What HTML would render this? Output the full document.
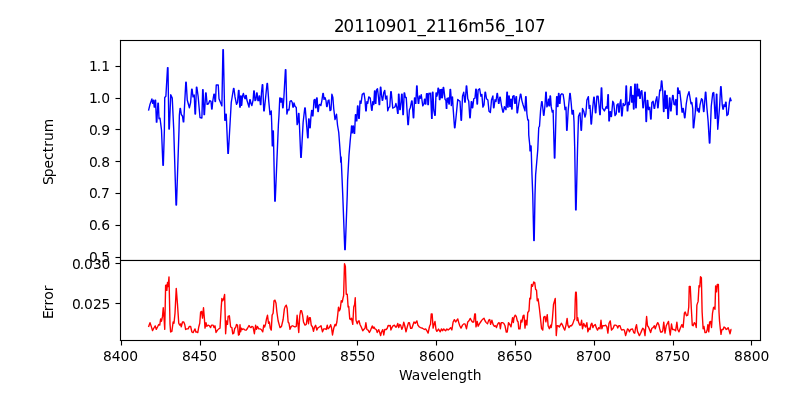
<!DOCTYPE html>
<html lang="en">
<head>
<meta charset="utf-8">
<title>20110901_2116m56_107</title>
<style>
html,body{margin:0;padding:0;background:#fff;}
body{width:800px;height:400px;overflow:hidden;}
svg{display:block;}
text{font-family:"DejaVu Sans","Liberation Sans",sans-serif;fill:#000;font-kerning:none;}
.t{font-size:13.889px;}
.h{font-size:16.667px;}
.s{stroke:#000;stroke-width:1.11;fill:none;}
</style>
</head>
<body>
<svg width="800" height="400" viewBox="0 0 800 400">
<rect x="0" y="0" width="800" height="400" fill="#fff"/>
<svg x="120" y="40" width="641" height="221" viewBox="120 40 641 221">
<polyline fill="none" stroke="#0000ff" stroke-width="1.39" stroke-linejoin="round" stroke-linecap="butt" points="148.50,110.62 150.00,104.38 151.88,98.85 152.62,103.40 153.50,100.10 154.28,107.15 154.72,107.15 155.16,100.10 155.59,100.10 156.41,122.15 156.84,122.15 157.91,103.10 158.34,103.10 159.00,118.75 160.00,118.12 161.50,130.00 162.91,165.28 163.34,165.28 164.38,130.00 164.75,97.50 165.88,96.25 167.53,67.60 167.97,67.60 168.91,129.03 169.34,129.03 170.75,94.72 172.25,98.12 173.75,130.00 176.03,205.03 176.47,205.03 179.00,130.00 179.38,115.00 180.03,108.47 180.47,108.47 181.25,114.38 182.50,116.25 183.28,121.90 183.72,121.90 185.78,82.22 186.22,82.22 187.25,100.00 189.38,107.78 190.62,102.50 191.66,89.10 192.09,89.10 193.00,96.88 194.25,95.00 195.03,114.03 195.47,114.03 196.41,87.22 196.84,87.22 198.12,96.25 200.00,117.50 201.88,118.12 202.66,89.72 203.09,89.72 204.03,114.65 204.47,114.65 205.66,92.85 206.09,92.85 207.12,104.38 208.50,103.75 209.75,100.62 211.00,101.25 211.66,109.03 212.09,109.03 212.75,101.25 213.91,94.10 214.34,94.10 215.03,101.53 215.47,101.53 216.25,85.00 218.25,85.00 219.00,98.75 221.88,105.90 222.91,49.73 223.34,49.73 224.78,120.28 225.22,120.28 225.78,114.10 226.22,114.10 227.91,153.40 228.34,153.40 231.25,102.50 233.53,88.47 233.97,88.47 235.00,96.88 236.50,104.38 237.50,102.50 238.53,90.35 238.97,90.35 239.78,107.15 240.22,107.15 240.66,95.97 241.09,95.97 241.28,105.28 241.72,105.28 242.50,96.25 243.38,93.47 244.38,97.50 245.25,98.75 245.78,95.35 246.22,95.35 246.88,100.00 249.00,107.15 249.78,99.72 250.22,99.72 251.00,103.75 251.88,105.62 253.12,100.00 253.78,90.97 254.22,90.97 255.00,100.62 255.88,100.00 256.65,92.85 257.10,92.85 257.88,100.62 258.75,100.62 259.15,95.97 259.60,95.97 260.40,104.65 260.85,104.65 261.50,92.50 262.28,84.72 262.72,84.72 263.78,110.90 264.22,110.90 265.62,97.50 267.03,83.47 267.47,83.47 268.75,101.25 270.00,114.65 271.25,110.97 271.75,125.00 272.28,145.90 272.72,145.90 272.90,130.97 273.35,130.97 274.78,201.15 275.22,201.15 278.38,125.00 279.00,115.00 279.78,97.85 280.22,97.85 280.78,102.15 281.22,102.15 281.65,98.47 282.10,98.47 282.65,107.78 283.10,107.78 283.75,100.00 285.40,69.72 285.85,69.72 286.88,114.03 288.12,109.38 289.00,110.00 290.00,101.25 291.25,100.62 292.25,102.50 292.90,107.15 293.35,107.15 294.00,102.85 295.00,106.25 296.25,107.50 297.12,124.65 297.88,122.50 298.53,113.47 298.97,113.47 300.78,157.40 301.22,157.40 303.12,122.50 304.78,107.85 305.22,107.85 307.65,137.78 308.10,137.78 308.65,118.85 309.10,118.85 309.78,127.78 310.22,127.78 310.88,117.50 311.65,110.35 312.10,110.35 312.53,115.90 312.97,115.90 314.00,100.00 315.00,99.38 315.65,107.78 316.10,107.78 316.65,97.85 317.10,97.85 317.90,111.53 318.35,111.53 319.00,105.00 320.00,104.38 320.88,105.62 321.88,100.62 322.90,93.47 323.35,93.47 324.00,99.38 325.00,97.50 326.00,100.62 326.65,106.53 327.10,106.53 328.12,100.62 329.00,100.00 330.00,110.62 331.00,110.00 331.88,94.10 332.88,97.50 333.75,108.75 335.00,119.65 336.50,114.10 337.50,125.00 338.75,132.50 340.50,156.25 340.75,162.15 341.12,156.85 342.12,180.00 342.75,195.00 344.78,249.65 345.22,249.65 347.25,195.00 347.62,180.00 349.00,155.00 350.25,140.00 351.25,130.00 351.50,125.97 352.03,132.78 352.47,132.78 352.90,125.97 353.35,125.97 354.15,133.40 354.60,133.40 355.40,114.72 355.85,114.72 356.40,120.90 356.85,120.90 357.53,105.97 357.97,105.97 358.78,118.40 359.22,118.40 360.00,100.97 361.00,103.40 362.25,94.38 364.00,93.12 365.00,100.00 365.78,110.90 366.22,110.90 366.88,101.60 367.75,103.40 368.75,96.88 370.25,98.12 371.65,110.28 372.10,110.28 372.75,101.60 373.75,104.65 374.53,90.97 374.97,90.97 375.40,103.40 375.85,103.40 376.50,90.00 377.50,88.75 378.50,97.50 379.15,104.65 379.60,104.65 380.40,87.22 380.85,87.22 381.50,95.00 382.28,100.28 382.72,100.28 383.75,92.50 384.75,90.35 385.62,99.03 386.88,95.97 387.75,110.90 388.75,107.50 389.75,106.88 390.78,91.60 391.22,91.60 391.88,98.75 392.75,108.12 394.00,107.50 395.00,106.88 395.88,103.47 396.88,107.50 397.65,113.40 398.10,113.40 398.53,94.10 398.97,94.10 399.78,109.65 400.22,109.65 401.00,102.50 401.65,94.10 402.10,94.10 402.90,114.65 403.35,114.65 404.15,92.85 404.60,92.85 405.38,97.50 406.25,97.50 407.90,124.65 408.35,124.65 409.38,110.00 410.38,107.50 411.65,100.97 412.10,100.97 413.28,117.78 413.72,117.78 414.53,97.85 414.97,97.85 415.40,103.40 415.85,103.40 416.65,85.97 417.10,85.97 417.50,95.00 418.28,103.40 418.72,103.40 419.38,95.97 420.25,98.40 421.25,94.72 422.75,105.90 424.00,103.75 424.53,99.10 424.97,99.10 425.40,104.03 425.85,104.03 426.50,93.75 427.50,93.75 427.90,104.65 428.35,104.65 429.00,93.12 430.00,93.75 430.62,93.12 431.65,118.40 432.10,118.40 432.53,92.22 432.97,92.22 433.75,110.00 434.78,115.28 435.22,115.28 436.03,92.85 436.47,92.85 436.88,96.21 437.50,94.38 438.03,88.16 438.47,88.16 439.06,92.50 439.47,99.65 439.91,99.65 440.09,89.72 440.53,89.72 440.72,97.78 441.16,97.78 441.53,89.41 441.97,89.41 442.38,97.78 442.81,94.38 443.22,87.54 443.66,87.54 444.06,90.62 445.00,99.06 445.94,100.62 446.34,108.40 446.78,108.40 446.97,98.47 447.41,98.47 447.59,102.15 448.03,102.15 448.22,97.85 448.66,97.85 448.84,104.03 449.28,104.03 449.69,97.19 450.09,89.41 450.53,89.41 450.94,95.00 451.31,105.59 451.88,97.50 452.50,96.88 453.12,108.12 454.53,127.78 454.97,127.78 456.25,115.00 457.75,99.38 459.00,100.62 460.00,101.25 461.03,120.28 461.47,120.28 462.50,96.25 463.75,92.22 464.78,102.15 465.22,102.15 466.28,85.97 466.72,85.97 467.75,98.75 468.75,101.25 469.78,117.78 470.22,117.78 471.28,101.60 471.72,101.60 472.28,107.78 472.72,107.78 473.75,98.75 475.00,98.12 475.78,89.10 476.22,89.10 477.03,104.03 477.47,104.03 478.12,90.00 479.62,88.75 480.88,96.25 481.88,94.38 482.88,107.15 484.00,105.00 485.03,92.22 485.47,92.22 486.50,98.75 487.88,100.00 489.00,111.25 490.38,112.50 491.50,100.00 492.88,95.97 493.53,107.78 493.97,107.78 495.00,99.72 496.00,101.53 497.03,93.47 497.47,93.47 498.53,103.40 498.97,103.40 499.78,97.22 500.22,97.22 501.50,105.62 502.90,112.15 503.35,112.15 504.38,106.60 506.00,109.65 506.90,92.22 507.35,92.22 507.65,107.15 508.10,107.15 508.78,95.97 509.22,95.97 509.78,106.53 510.22,106.53 510.78,99.10 511.22,99.10 511.65,109.03 512.10,109.03 512.75,96.25 514.00,95.62 514.78,103.40 515.22,103.40 516.03,96.60 516.47,96.60 517.03,112.78 517.47,112.78 518.75,103.75 520.40,94.10 520.85,94.10 521.88,100.62 523.12,105.00 525.00,110.90 525.65,96.60 526.10,96.60 526.88,113.75 527.75,120.00 528.50,120.00 528.75,135.00 529.75,145.00 530.00,150.90 530.65,145.97 531.10,145.97 532.00,175.00 532.75,195.00 533.78,240.53 534.22,240.53 535.00,195.00 535.62,175.00 537.75,150.00 538.75,127.50 539.50,126.25 540.62,110.00 541.65,101.60 542.10,101.60 542.88,108.75 543.53,115.28 543.97,115.28 545.00,105.00 545.78,92.22 546.22,92.22 546.88,106.88 547.75,105.00 548.53,99.10 548.97,99.10 549.15,105.90 549.60,105.90 550.03,95.97 550.47,95.97 551.25,106.88 552.25,112.15 553.12,110.35 554.40,158.03 554.85,158.03 556.25,105.00 556.65,96.60 557.10,96.60 557.53,106.53 557.97,106.53 558.53,93.47 558.97,93.47 559.53,103.40 559.97,103.40 560.62,95.00 561.88,93.75 563.12,94.38 564.00,100.00 565.00,109.65 566.00,107.22 566.65,130.28 567.10,130.28 568.12,111.25 569.78,93.47 570.22,93.47 571.25,103.75 572.03,114.03 572.47,114.03 572.90,110.35 573.35,110.35 574.00,121.25 574.75,150.00 575.65,209.90 576.10,209.90 577.50,150.00 578.50,116.25 580.00,112.85 581.03,130.28 581.47,130.28 582.50,108.47 583.75,111.25 585.00,117.15 585.88,113.75 586.88,100.00 588.38,96.60 589.12,108.40 590.00,105.35 591.03,124.03 591.47,124.03 592.50,110.00 593.78,97.22 594.22,97.22 595.40,112.78 595.85,112.78 596.88,96.25 598.12,96.25 599.00,105.00 599.78,114.65 600.22,114.65 601.28,87.85 601.72,87.85 602.50,108.12 604.38,110.90 606.25,106.60 607.12,108.40 607.90,94.72 608.35,94.72 608.90,120.90 609.35,120.90 610.03,111.60 610.47,111.60 611.03,116.53 611.47,116.53 612.75,101.25 613.75,103.12 615.00,115.62 616.25,113.75 616.88,105.00 618.12,103.75 618.78,112.15 619.22,112.15 620.00,103.12 620.88,99.72 621.65,115.90 622.10,115.90 623.12,103.47 624.38,105.62 625.38,104.38 626.03,85.97 626.47,85.97 627.28,110.90 627.72,110.90 628.50,102.22 629.38,104.65 630.65,86.60 631.10,86.60 631.65,102.15 632.10,102.15 632.53,95.35 632.97,95.35 633.53,109.03 633.97,109.03 634.78,84.10 635.22,84.10 635.78,107.78 636.22,107.78 637.03,84.10 637.47,84.10 637.90,95.90 638.35,95.90 638.78,89.10 639.22,89.10 639.78,98.40 640.22,98.40 641.00,91.25 641.88,90.62 642.90,107.78 643.35,107.78 644.00,101.25 644.78,92.22 645.22,92.22 646.03,121.53 646.47,121.53 647.28,100.35 647.72,100.35 648.50,109.65 649.75,107.22 650.65,119.03 651.10,119.03 651.88,102.50 653.12,101.25 654.15,108.40 654.60,108.40 655.62,101.25 656.88,96.60 657.65,107.78 658.10,107.78 658.75,100.62 659.75,90.00 660.62,90.62 661.40,80.97 661.85,80.97 662.75,91.25 663.53,111.53 663.97,111.53 664.78,90.97 665.22,90.97 665.65,108.40 666.10,108.40 666.65,95.35 667.10,95.35 667.90,118.40 668.35,118.40 669.53,97.85 669.97,97.85 670.65,110.90 671.10,110.90 671.88,101.25 672.65,95.35 673.10,95.35 674.00,104.38 675.00,105.00 675.65,99.72 676.10,99.72 676.65,114.65 677.10,114.65 677.65,87.85 678.10,87.85 678.75,93.40 679.75,90.97 681.00,101.88 682.03,112.15 682.47,112.15 682.90,108.47 683.35,108.47 684.53,117.78 684.97,117.78 686.25,103.75 687.50,96.25 689.00,91.60 691.00,103.75 691.88,102.50 692.75,108.75 693.28,127.78 693.72,127.78 695.25,112.50 696.03,97.85 696.47,97.85 697.25,110.90 698.12,108.47 698.78,112.15 699.22,112.15 700.00,105.00 701.50,98.75 702.50,100.00 703.53,111.53 703.97,111.53 705.40,92.22 705.85,92.22 706.88,107.50 708.12,121.25 709.40,143.03 709.85,143.03 711.25,106.25 712.75,93.12 713.75,92.50 715.15,118.40 715.60,118.40 716.40,94.10 716.85,94.10 717.50,122.50 717.75,129.28 719.62,106.25 720.65,86.60 721.10,86.60 722.25,105.00 722.90,109.03 723.35,109.03 724.00,104.72 725.00,106.53 725.65,102.22 726.10,102.22 726.88,115.62 728.12,114.38 729.38,102.50 730.25,97.85 731.25,101.25"/>
</svg>
<svg x="120" y="260" width="641" height="81" viewBox="120 260 641 81">
<polyline fill="none" stroke="#ff0000" stroke-width="1.39" stroke-linejoin="round" stroke-linecap="butt" points="148.50,327.00 150.00,322.77 151.25,326.38 152.50,330.60 153.75,328.25 155.25,325.90 156.25,329.35 157.50,327.00 158.75,324.50 159.75,325.12 160.62,319.02 161.50,321.23 162.50,316.38 163.25,307.77 164.00,317.00 164.75,329.35 165.62,285.50 166.25,284.88 166.88,290.35 167.50,282.52 168.12,286.60 169.00,276.90 170.00,323.88 170.62,332.00 171.88,331.38 173.12,322.00 174.00,323.25 175.00,313.25 176.25,288.40 177.50,304.50 178.75,323.25 179.75,325.12 180.62,323.88 181.25,326.85 182.50,322.00 183.75,322.00 184.75,324.50 185.62,329.50 186.88,328.88 188.12,328.88 189.38,326.38 190.62,326.38 191.88,332.00 193.12,332.62 194.00,330.75 195.00,328.88 195.88,332.00 196.88,332.00 197.75,332.62 198.75,327.00 199.75,323.25 200.62,312.00 201.62,311.38 202.50,318.10 203.50,307.77 204.38,318.25 205.00,328.10 206.00,322.77 206.88,326.38 208.12,325.12 209.38,325.75 210.62,327.62 211.50,325.12 213.12,325.12 214.00,327.62 215.00,325.75 216.00,332.48 217.50,330.12 218.75,328.88 220.00,328.25 221.25,307.00 221.88,298.40 222.75,300.75 223.50,299.50 224.62,294.40 225.62,333.73 226.50,320.90 227.50,324.35 228.12,316.38 229.38,315.75 230.62,327.00 231.88,327.62 232.75,333.88 233.75,333.25 234.75,328.25 235.62,327.62 236.50,324.50 237.50,325.12 238.50,335.12 239.38,334.50 240.00,324.65 240.62,331.85 241.50,328.25 242.50,329.50 243.75,328.88 245.00,330.12 246.25,330.12 247.50,328.25 249.00,325.50 250.00,327.00 251.00,327.62 251.88,326.38 253.12,327.00 254.38,333.73 255.62,325.27 256.50,329.35 257.50,326.52 258.75,328.88 260.00,328.88 261.25,329.50 262.75,331.85 263.75,325.12 264.62,327.00 265.62,323.88 266.50,318.88 267.50,315.27 268.50,323.25 269.38,322.00 270.25,328.25 271.25,330.12 272.12,315.12 273.12,313.25 274.00,300.75 275.00,300.12 276.00,303.25 276.88,312.00 278.12,320.75 280.00,327.62 281.50,326.38 283.12,319.50 284.38,308.88 285.25,306.38 286.25,305.12 287.12,308.25 288.12,322.00 289.00,323.25 290.00,329.35 291.25,326.38 292.50,325.75 293.75,326.38 295.00,327.00 296.25,326.38 297.12,315.27 297.88,323.25 298.75,332.48 299.75,315.75 300.62,310.75 301.50,310.75 302.50,314.50 303.50,322.00 305.00,325.12 306.25,324.50 307.50,315.90 308.50,323.73 309.38,317.62 310.25,317.62 311.25,325.12 312.50,327.00 313.50,331.23 314.38,327.62 315.62,325.27 316.88,329.98 318.12,327.62 319.38,327.00 321.00,325.75 322.50,331.85 323.75,328.88 325.00,328.88 326.25,329.50 327.25,325.27 328.12,328.88 329.38,327.62 330.62,324.65 331.50,327.62 332.50,334.98 333.75,328.25 335.00,324.50 335.88,325.75 336.88,322.00 337.75,314.50 338.50,307.15 339.38,310.75 340.25,308.88 341.25,300.75 342.25,302.00 343.12,297.62 343.62,295.75 344.50,263.65 345.38,266.50 346.25,294.25 347.25,294.25 348.12,307.00 348.75,306.38 349.75,318.88 350.62,319.50 351.50,318.25 352.75,324.35 353.75,307.00 354.62,304.50 355.25,297.77 356.00,320.12 357.25,323.73 358.12,321.38 359.00,320.75 360.00,324.50 361.25,327.00 362.75,330.75 363.75,329.50 365.00,328.25 365.88,322.77 366.88,329.50 368.12,330.12 369.38,332.48 370.62,330.12 372.25,325.90 373.12,328.25 374.00,327.00 375.00,328.88 376.25,329.50 377.25,332.48 378.75,329.65 379.75,332.62 380.62,335.60 381.50,332.00 382.75,329.65 383.75,334.98 384.75,329.50 386.25,329.50 387.25,328.25 388.12,325.50 389.38,325.75 390.25,325.50 390.88,329.98 391.88,327.62 393.12,325.75 394.38,325.12 395.62,327.00 396.50,327.00 397.75,323.40 398.75,327.48 399.75,324.50 400.62,325.12 401.88,329.35 402.75,327.00 403.75,322.15 404.75,325.75 406.00,331.85 407.25,327.00 408.50,322.62 409.38,322.62 410.62,328.25 411.88,328.25 413.12,324.50 414.00,322.00 415.25,323.25 416.88,320.90 417.88,325.12 419.38,327.00 420.62,327.62 422.50,328.25 424.38,329.50 425.62,328.88 426.88,330.75 428.12,333.10 429.38,327.00 430.00,325.12 430.50,324.50 431.25,313.88 432.12,313.88 433.12,328.10 434.00,324.50 435.00,321.52 436.00,329.50 436.88,331.38 438.50,329.02 440.25,331.85 441.50,328.88 442.50,330.75 443.75,328.88 444.75,330.12 445.62,330.75 446.88,328.88 448.12,330.12 449.38,328.88 450.62,327.62 451.88,329.98 453.12,322.00 454.38,319.65 455.62,322.00 456.88,320.12 457.75,318.88 458.75,322.62 459.75,325.75 461.00,328.10 462.50,325.12 463.75,323.88 465.00,323.88 466.50,328.73 467.75,322.00 469.00,320.75 470.25,318.40 471.50,320.75 472.50,322.00 473.75,322.00 474.75,313.88 475.38,313.88 476.00,326.85 477.25,321.52 478.12,326.23 479.38,323.88 480.62,322.00 481.88,320.12 483.12,318.88 484.00,318.25 485.00,320.75 486.25,322.62 487.50,323.88 488.75,320.12 489.75,319.50 490.62,324.35 491.88,320.27 493.12,324.50 494.38,326.38 495.62,325.75 496.50,327.62 497.50,324.50 498.75,322.62 499.62,323.25 500.38,328.73 501.25,322.62 502.50,322.62 503.75,323.25 505.00,325.75 506.25,332.00 507.25,332.00 508.50,322.62 509.75,324.50 511.00,326.85 512.50,317.77 513.38,322.48 514.00,317.62 515.25,315.12 516.25,316.38 517.25,320.75 518.12,322.00 518.75,328.88 520.00,328.88 521.00,320.12 521.88,322.00 523.12,315.75 524.00,315.12 525.00,328.10 525.88,320.27 526.88,324.98 527.75,312.62 529.00,310.75 529.75,298.25 530.62,298.88 531.50,284.50 532.50,286.38 533.75,282.00 534.75,282.62 535.62,289.50 536.50,290.12 537.25,300.75 538.12,298.88 539.38,308.25 540.62,319.50 541.50,328.25 542.75,330.12 543.75,317.00 545.00,316.38 545.88,321.85 547.25,314.65 548.12,325.75 549.38,328.73 550.62,325.27 551.25,327.48 552.25,320.75 553.50,304.50 555.25,298.40 556.25,335.60 557.12,325.75 558.12,325.75 559.38,327.00 560.25,325.12 561.50,323.25 562.50,325.12 563.75,328.25 564.75,330.12 566.00,325.12 567.12,318.40 567.88,325.12 569.00,327.62 570.25,325.75 571.50,325.75 572.75,323.88 574.00,320.12 574.75,318.88 575.25,299.50 575.62,292.25 576.25,292.25 576.62,299.50 577.00,320.60 577.75,317.77 578.50,322.00 579.75,325.12 580.62,325.12 581.62,320.27 582.50,328.73 583.75,323.40 584.75,325.75 585.62,327.00 586.88,322.77 587.88,331.85 589.00,328.25 590.00,329.50 591.00,324.50 591.88,323.25 592.88,327.62 593.75,325.75 595.25,324.50 596.50,328.25 597.50,330.12 598.75,327.62 600.00,328.88 601.00,320.27 601.88,328.73 602.75,325.75 604.38,325.75 605.62,325.12 606.88,327.00 607.88,333.10 609.00,323.25 610.25,320.90 611.50,330.12 613.12,328.25 614.38,325.12 615.62,325.12 616.88,325.75 617.75,328.10 618.75,325.75 620.00,325.75 621.00,328.88 621.88,330.12 623.12,329.50 624.38,330.12 625.62,335.60 626.50,332.62 627.50,328.88 628.50,329.50 629.38,331.85 630.62,329.50 632.50,328.88 633.75,332.62 634.75,333.25 635.62,327.62 636.50,324.65 637.50,331.38 639.38,335.60 640.62,333.25 641.88,330.12 642.75,328.25 644.00,329.50 645.00,335.60 645.88,325.12 646.62,316.52 647.50,325.75 648.50,327.00 649.75,330.12 650.62,332.48 651.88,328.25 653.12,327.62 654.38,325.75 655.25,328.73 656.50,325.12 657.75,322.62 658.75,324.50 659.75,328.88 660.62,332.00 661.88,332.00 662.75,330.75 663.75,322.15 665.00,333.10 666.25,325.75 667.50,323.25 668.50,321.38 669.38,329.50 670.25,334.98 671.50,324.02 672.50,329.50 674.00,329.50 675.62,330.75 676.88,322.15 677.75,329.50 679.00,331.85 680.25,328.25 681.88,324.65 683.12,327.48 684.38,313.25 685.25,312.00 686.50,315.75 687.75,315.12 688.75,307.00 689.25,286.38 690.25,286.38 691.25,307.00 692.25,325.12 693.12,325.75 694.38,322.62 695.62,324.50 696.25,327.48 696.88,305.12 698.12,301.38 699.00,285.75 699.75,287.00 700.50,276.75 701.38,277.62 702.12,312.00 703.12,328.73 704.00,326.52 705.00,332.62 706.25,332.62 707.25,329.50 707.88,324.65 708.75,331.85 709.62,322.00 710.62,321.38 711.50,327.48 712.50,313.25 713.50,307.62 714.38,307.00 715.00,309.35 715.62,285.90 716.50,291.85 717.25,284.50 718.38,284.50 719.00,312.00 719.50,320.75 720.25,328.25 721.00,334.35 721.88,329.50 723.12,329.50 724.00,327.00 725.00,327.62 726.25,329.50 727.25,328.88 728.12,327.62 729.00,330.12 730.00,333.73 731.00,329.50 731.50,329.50"/>
</svg>
<g shape-rendering="crispEdges" fill="#000">
<path fill-opacity="0.055" d="M119 40h1v301h-1zM121 40h1v301h-1zM759 40h1v301h-1zM761 40h1v301h-1zM120 39h1v1h-1zM760 39h1v1h-1zM120 341h1v1h-1zM760 341h1v1h-1zM120 341h1v4h-1zM122 341h1v4h-1zM199 341h1v4h-1zM201 341h1v4h-1zM277 341h1v4h-1zM279 341h1v4h-1zM356 341h1v4h-1zM358 341h1v4h-1zM435 341h1v4h-1zM437 341h1v4h-1zM514 341h1v4h-1zM516 341h1v4h-1zM593 341h1v4h-1zM595 341h1v4h-1zM672 341h1v4h-1zM674 341h1v4h-1zM750 341h1v4h-1zM752 341h1v4h-1z"/>
<path fill-opacity="0.055" d="M120 39h641v1h-641zM120 41h641v1h-641zM120 339h641v1h-641zM120 341h641v1h-641zM120 259h641v1h-641zM120 261h641v1h-641zM119 40h1v1h-1zM119 260h1v1h-1zM119 340h1v1h-1zM761 40h1v1h-1zM761 260h1v1h-1zM761 340h1v1h-1zM116 65h4v1h-4zM116 67h4v1h-4zM116 97h4v1h-4zM116 99h4v1h-4zM116 128h4v1h-4zM116 130h4v1h-4zM116 160h4v1h-4zM116 162h4v1h-4zM116 192h4v1h-4zM116 194h4v1h-4zM116 224h4v1h-4zM116 226h4v1h-4zM116 256h4v1h-4zM116 258h4v1h-4zM116 262h4v1h-4zM116 264h4v1h-4zM116 302h4v1h-4zM116 304h4v1h-4z"/>
<path fill-opacity="0.055" d="M120 259h641v1h-641z"/>
<path fill-opacity="0.0275" d="M115 65h1v1h-1zM115 67h1v1h-1zM115 97h1v1h-1zM115 99h1v1h-1zM115 128h1v1h-1zM115 130h1v1h-1zM115 160h1v1h-1zM115 162h1v1h-1zM115 192h1v1h-1zM115 194h1v1h-1zM115 224h1v1h-1zM115 226h1v1h-1zM115 256h1v1h-1zM115 258h1v1h-1zM115 262h1v1h-1zM115 264h1v1h-1zM115 302h1v1h-1zM115 304h1v1h-1zM120 345h1v1h-1zM122 345h1v1h-1zM199 345h1v1h-1zM201 345h1v1h-1zM277 345h1v1h-1zM279 345h1v1h-1zM356 345h1v1h-1zM358 345h1v1h-1zM435 345h1v1h-1zM437 345h1v1h-1zM514 345h1v1h-1zM516 345h1v1h-1zM593 345h1v1h-1zM595 345h1v1h-1zM672 345h1v1h-1zM674 345h1v1h-1zM750 345h1v1h-1zM752 345h1v1h-1z"/>
<path fill-opacity="0.5" d="M115 66h1v1h-1zM115 98h1v1h-1zM115 129h1v1h-1zM115 161h1v1h-1zM115 193h1v1h-1zM115 225h1v1h-1zM115 257h1v1h-1zM115 263h1v1h-1zM115 303h1v1h-1zM121 345h1v1h-1zM200 345h1v1h-1zM278 345h1v1h-1zM357 345h1v1h-1zM436 345h1v1h-1zM515 345h1v1h-1zM594 345h1v1h-1zM673 345h1v1h-1zM751 345h1v1h-1z"/>
<path d="M120 40h1v301h-1zM760 40h1v301h-1zM120 40h641v1h-641zM120 340h641v1h-641zM120 260h641v1h-641zM116 66h4v1h-4zM116 98h4v1h-4zM116 129h4v1h-4zM116 161h4v1h-4zM116 193h4v1h-4zM116 225h4v1h-4zM116 257h4v1h-4zM116 263h4v1h-4zM116 303h4v1h-4zM121 341h1v4h-1zM200 341h1v4h-1zM278 341h1v4h-1zM357 341h1v4h-1zM436 341h1v4h-1zM515 341h1v4h-1zM594 341h1v4h-1zM673 341h1v4h-1zM751 341h1v4h-1z"/>
</g>
<text class="t" x="88.95 96.76 101.19" y="71">1.1</text>
<text class="t" x="88.95 96.76 101.19" y="103">1.0</text>
<text class="t" x="88.95 96.76 101.19" y="135">0.9</text>
<text class="t" x="88.95 96.76 101.19" y="167">0.8</text>
<text class="t" x="88.95 96.76 100.94" y="198">0.7</text>
<text class="t" x="88.95 96.76 101.19" y="230">0.6</text>
<text class="t" x="88.95 96.76 101.19" y="262">0.5</text>
<text class="t" x="72.05 79.86 84.03 93.11 101.44" y="269">0.030</text>
<text class="t" x="72.05 79.86 84.03 93.11 101.44" y="309">0.025</text>
<text class="t" x="103.09 111.66 120.48 129.31" y="361">8400</text>
<text class="t" x="182.09 190.66 199.48 208.31" y="361">8450</text>
<text class="t" x="261.09 269.91 278.48 287.31" y="361">8500</text>
<text class="t" x="340.09 348.91 357.48 366.31" y="361">8550</text>
<text class="t" x="419.09 427.91 436.73 445.56" y="361">8600</text>
<text class="t" x="497.09 505.91 514.73 523.56" y="361">8650</text>
<text class="t" x="576.09 584.66 593.48 602.31" y="361">8700</text>
<text class="t" x="655.09 663.66 672.48 681.31" y="361">8750</text>
<text class="t" x="734.09 742.91 751.73 760.56" y="361">8800</text>
<text class="t" x="399.09 411.67 420.42 428.62 436.92 441.02 449.56 458.36 467.16 472.84" y="380">Wavelength</text>
<text class="t" transform="translate(53 152.25) rotate(-90)" x="-32.87 -25.07 -16.26 -7.73 -0.1 5.6 11.3 20.09">Spectrum</text>
<text class="t" transform="translate(53 303) rotate(-90)" x="-15.91 -8.15 -2.45 3.21 11.7">Error</text>
<text class="h" transform="translate(439.8 32) scale(1 1.07)" x="-105.77 -96.23 -85.43 -75.13 -64.59 -54.04 -43.49 -32.7 -22.4 -13.87 -3.32 7.48 18.02 28.57 44.74 55.29 65.59 74.12 84.67 95.21">20110901_2116m56_107</text>
</svg>
</body>
</html>
